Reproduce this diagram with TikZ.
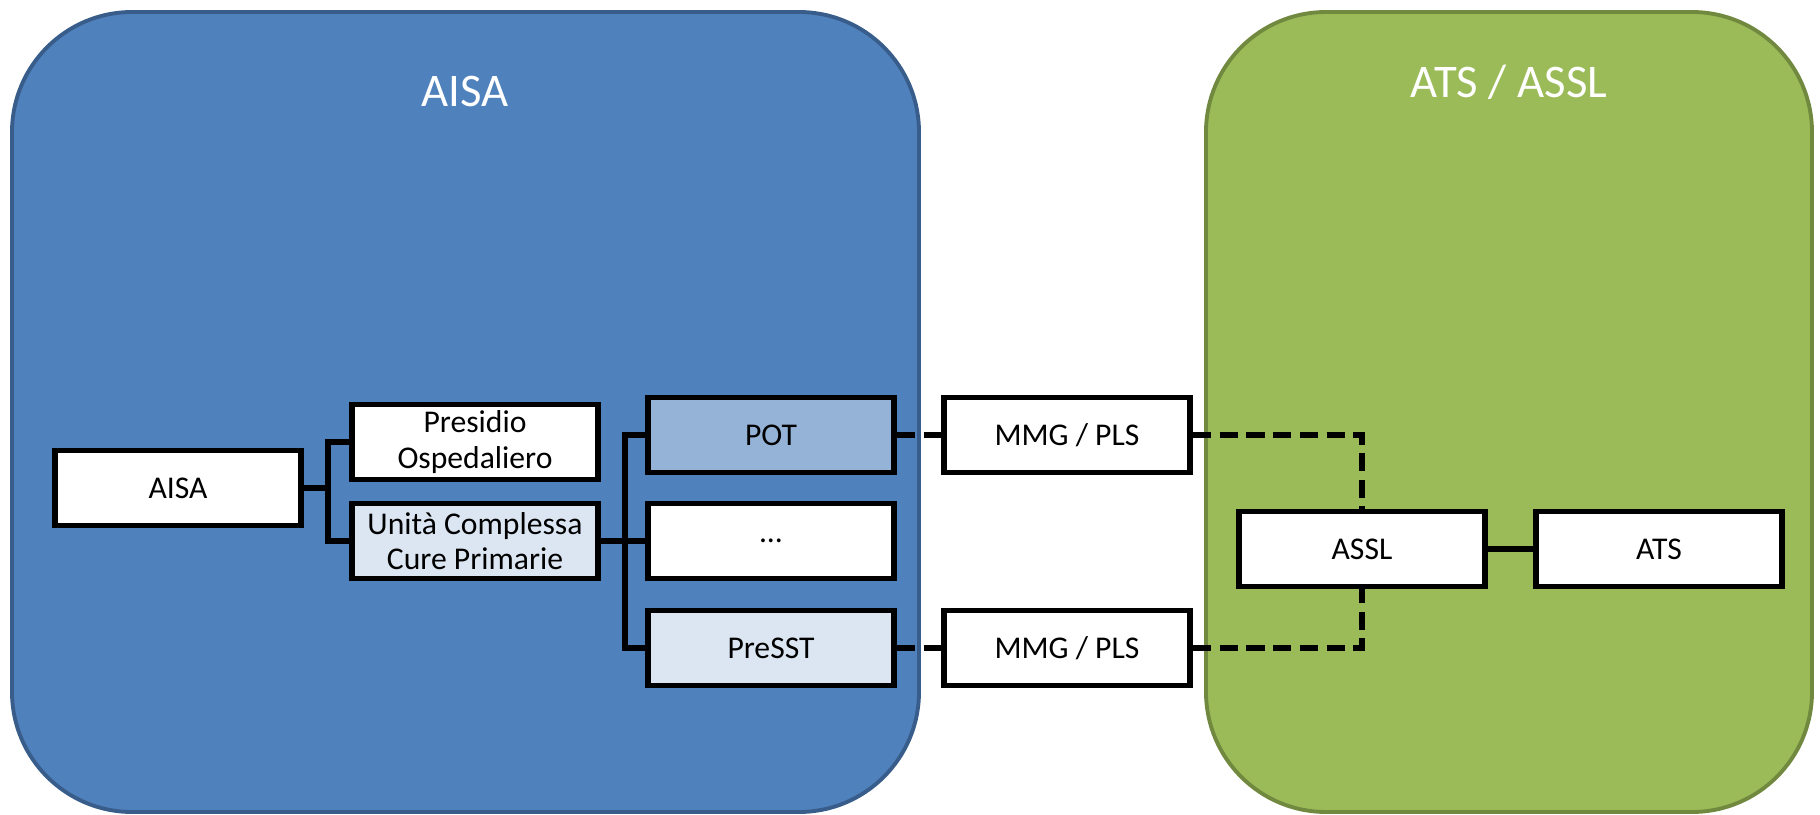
\documentclass[tikz,border=0pt]{standalone}
\usepackage{fontspec}
\setmainfont{Carlito}
\usetikzlibrary{positioning}
\definecolor{aisablue}{HTML}{4F81BD}
\definecolor{aisaedge}{HTML}{385D8A}
\definecolor{atsgreen}{HTML}{9BBB59}
\definecolor{atsedge}{HTML}{71893F}
\definecolor{potblue}{HTML}{95B3D7}
\definecolor{paleblue}{HTML}{DCE6F2}
\tikzset{
  unitbox/.style={draw, line width=1.6pt, fill=white, minimum width=2.46cm, minimum height=0.75cm,
    inner sep=0pt, align=center, font=\fontsize{9}{10}\selectfont},
  link/.style={line width=1.5pt},
  dashlink/.style={line width=1.5pt, dash pattern=on 5.2pt off 2.4pt},
  region/.style={line width=1.1pt, rounded corners=1.2cm},
  regiontitle/.style={text=white, font=\fontsize{13.3}{16}\selectfont}
}
\begin{document}
\begin{tikzpicture}[x=0.01cm, y=-0.01cm]
\useasboundingbox (0,0) rectangle (1820,815);

% the two areas
\draw[region, fill=aisablue, draw=aisaedge] (12,12) rectangle (919,812);
\draw[region, fill=atsgreen, draw=atsedge] (1206,12) rectangle (1812,812);
\node[regiontitle] (aisatitle) at (465,91) {AISA};
\node[regiontitle] (atstitle) at (1509,82) {ATS / ASSL};

% AISA side
\node[unitbox] (aisa) at (178,488) {AISA};
\node[unitbox] (presidio) at (475,442) {Presidio\\Ospedaliero};
\node[unitbox, fill=paleblue] (ucp) at (475,541) {Unità Complessa\\Cure Primarie};
\node[unitbox, fill=potblue] (pot) at (771,435) {POT};
\node[unitbox] (dots) at (771,541) {...};
\node[unitbox, fill=paleblue] (presst) at (771,648) {PreSST};

% between
\node[unitbox] (mmgtop) at (1067,435) {MMG / PLS};
\node[unitbox] (mmgbot) at (1067,648) {MMG / PLS};

% ATS side
\node[unitbox] (assl) at (1362,549) {ASSL};
\node[unitbox] (ats) at (1659,549) {ATS};

\draw[link] (aisa.east) -- ++(24,0) |- (presidio.west);
\draw[link] (aisa.east) -- ++(24,0) |- (ucp.west);
\draw[link] (ucp.east) -- ++(24,0) |- (pot.west);
\draw[link] (ucp.east) -- (dots.west);
\draw[link] (ucp.east) -- ++(24,0) |- (presst.west);
\draw[link] (assl.east) -- (ats.west);

\draw[dashlink] (pot.east) -- (mmgtop.west);
\draw[dashlink] (presst.east) -- (mmgbot.west);
\draw[dashlink] (mmgtop.east) -| (assl.north);
\draw[dashlink] (mmgbot.east) -| (assl.south);
\end{tikzpicture}
\end{document}
